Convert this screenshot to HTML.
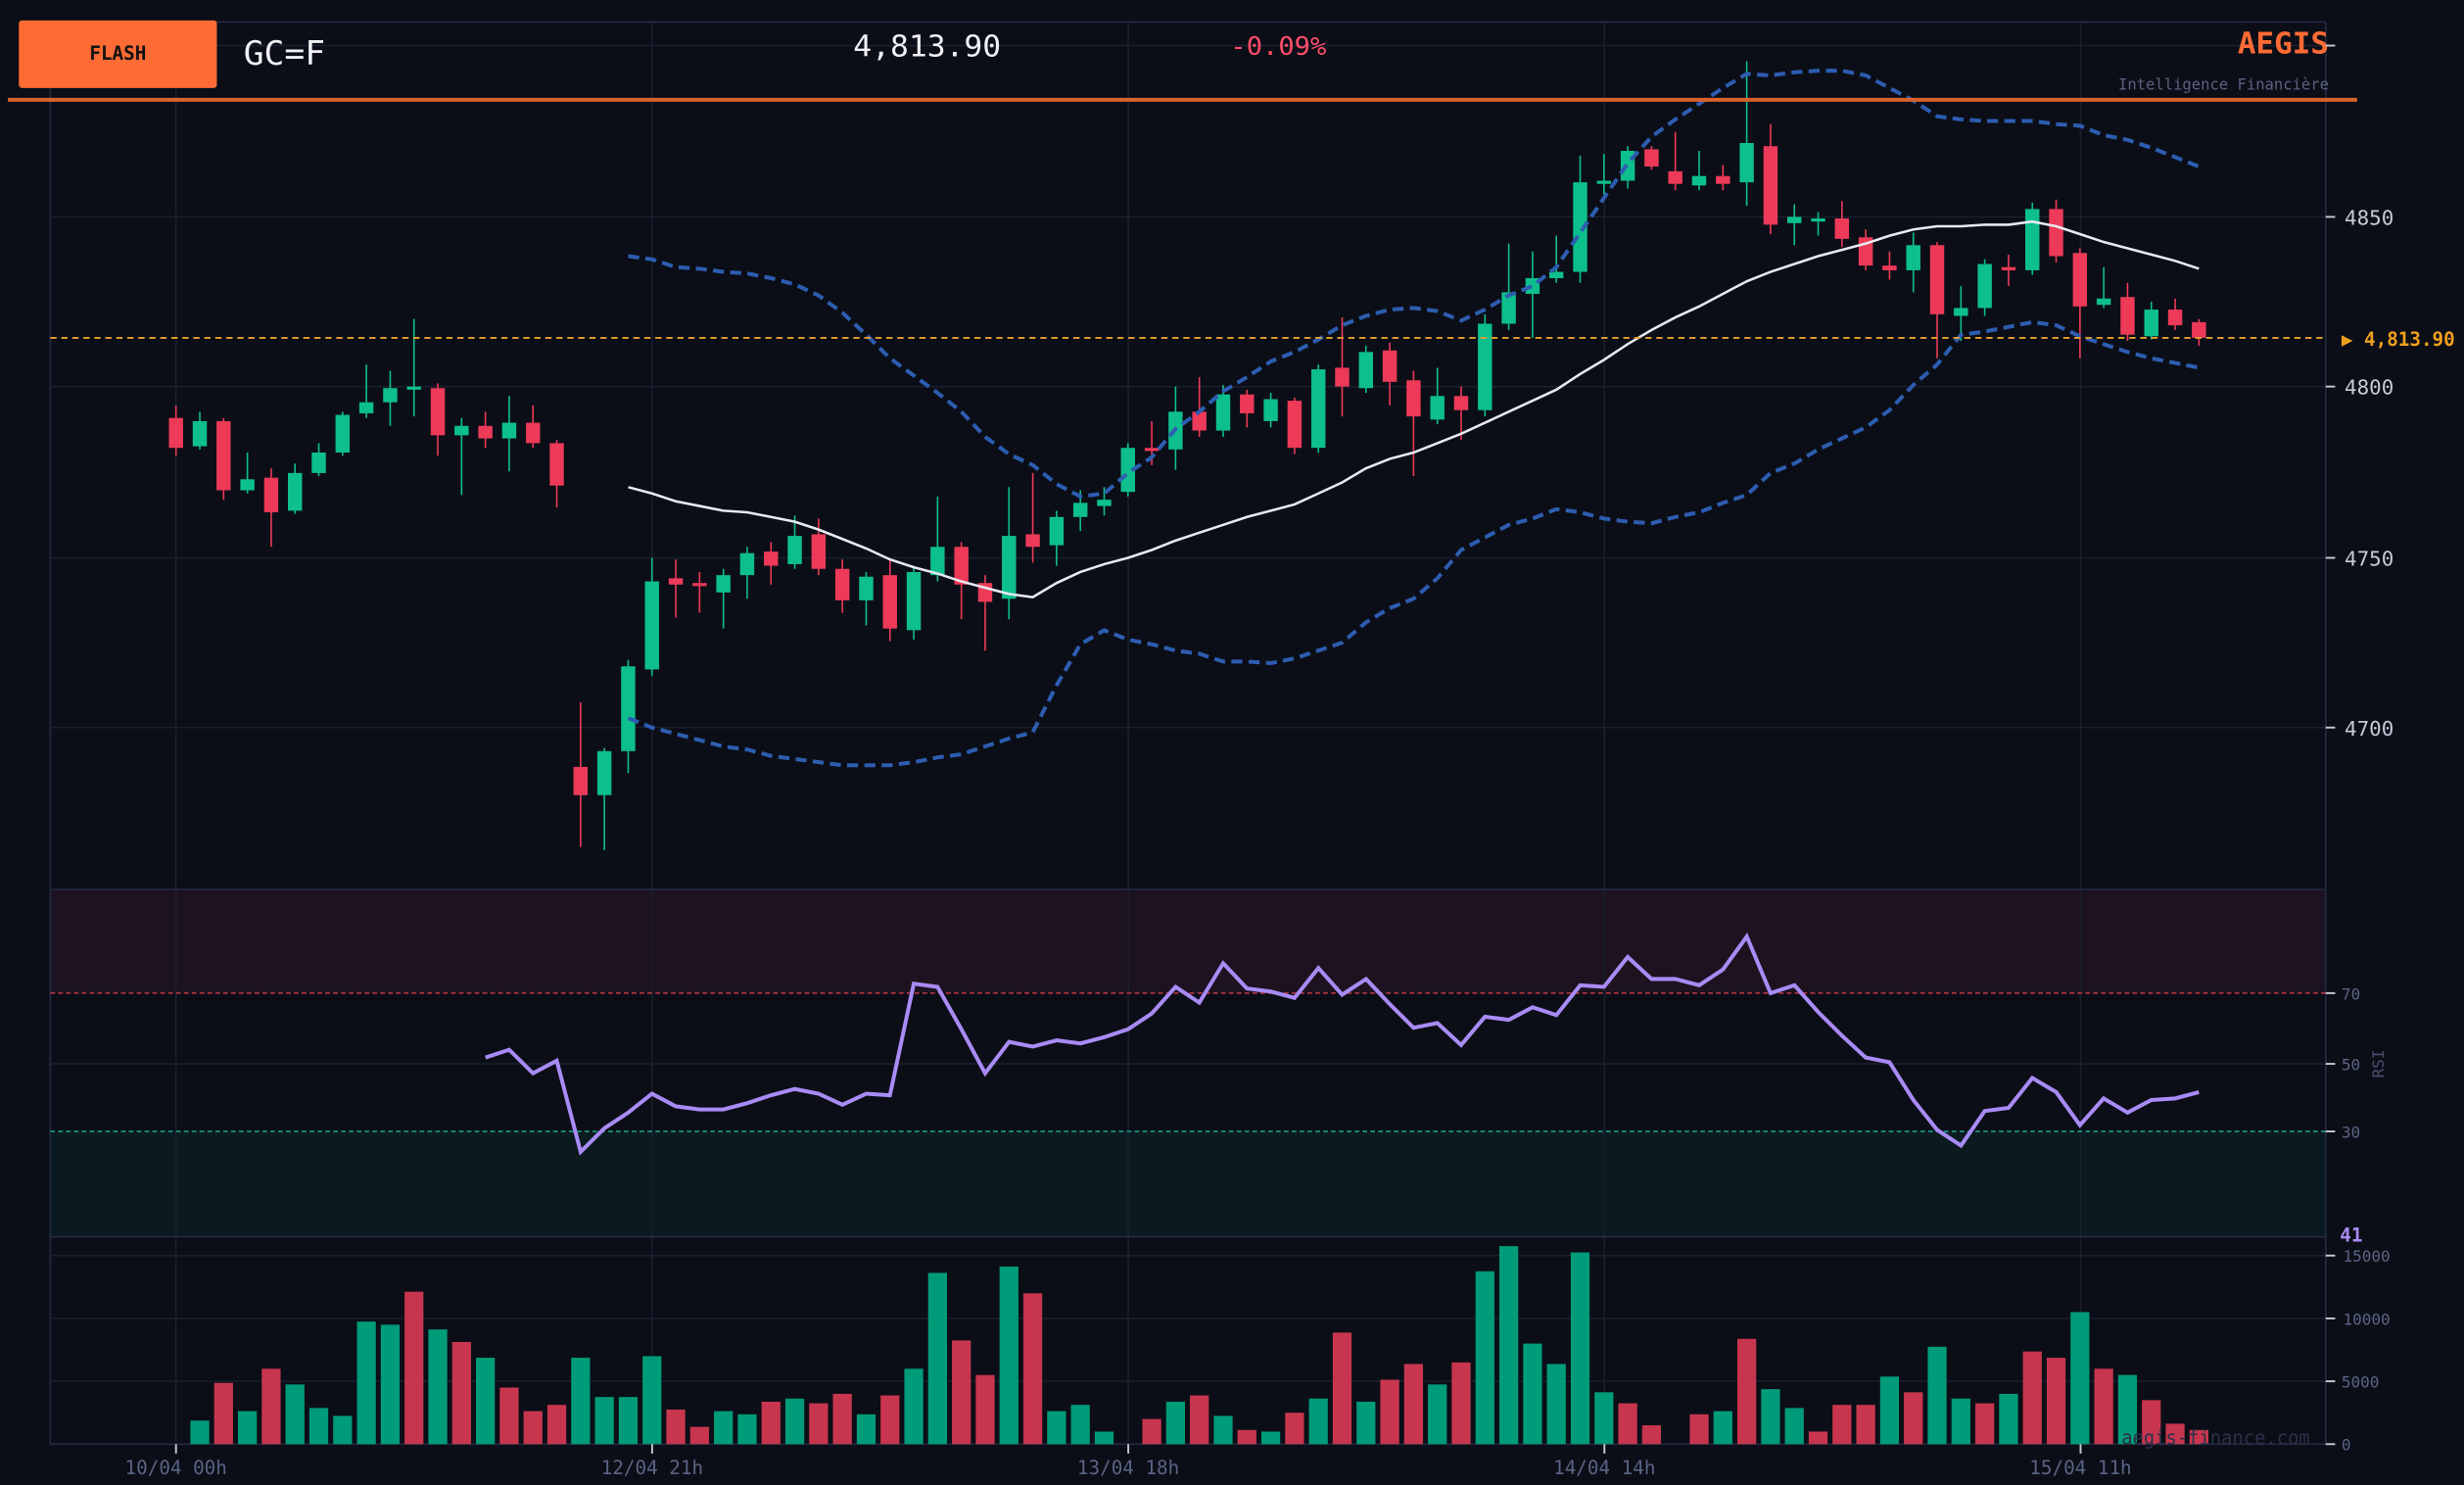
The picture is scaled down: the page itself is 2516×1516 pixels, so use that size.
<!DOCTYPE html>
<html><head><meta charset="utf-8">
<style>
html,body{margin:0;padding:0;background:#0b0e17;overflow:hidden}
svg{display:block}
text{font-family:"DejaVu Sans Mono","Liberation Mono",monospace}
</style></head>
<body>
<svg id="s" width="2516" height="1516" viewBox="0 0 1568 945" preserveAspectRatio="none" xmlns="http://www.w3.org/2000/svg">
<rect width="1568" height="945" fill="#0b0e17"/>
<rect x="32" y="566" width="1448" height="66" fill="#1d1220"/>
<rect x="32" y="720" width="1448" height="67" fill="#0b1a1f"/>
<g stroke="#1a1f2e" stroke-width="1">
<line x1="32" y1="29" x2="1480" y2="29"/><line x1="32" y1="138" x2="1480" y2="138"/><line x1="32" y1="246" x2="1480" y2="246"/><line x1="32" y1="355" x2="1480" y2="355"/><line x1="32" y1="463" x2="1480" y2="463"/>
<line x1="32" y1="677" x2="1480" y2="677"/>
<line x1="32" y1="799" x2="1480" y2="799"/><line x1="32" y1="839" x2="1480" y2="839"/><line x1="32" y1="879" x2="1480" y2="879"/>
<line x1="112" y1="14" x2="112" y2="919"/><line x1="415" y1="14" x2="415" y2="919"/><line x1="718" y1="14" x2="718" y2="919"/><line x1="1021" y1="14" x2="1021" y2="919"/><line x1="1324" y1="14" x2="1324" y2="919"/>
</g>
<g stroke="#252b40" stroke-width="1" fill="none">
<line x1="32" y1="14" x2="1480" y2="14"/>
<line x1="32" y1="14" x2="32" y2="919"/><line x1="1480" y1="14" x2="1480" y2="919"/>
<line x1="32" y1="566" x2="1480" y2="566"/><line x1="32" y1="787" x2="1480" y2="787"/><line x1="32" y1="919" x2="1480" y2="919"/>
</g>
<line x1="32" y1="632" x2="1480" y2="632" stroke="#c0394a" stroke-width="1" stroke-dasharray="3,2"/>
<line x1="32" y1="720" x2="1480" y2="720" stroke="#1a9a8a" stroke-width="1" stroke-dasharray="3,2"/>
<g id="vol"></g>
<g id="cand"></g>
<polyline id="up" fill="none" stroke="#2d5db0" stroke-width="2.5" stroke-dasharray="7,4"/>
<polyline id="lo" fill="none" stroke="#2d5db0" stroke-width="2.5" stroke-dasharray="7,4"/>
<polyline id="ma" fill="none" stroke="#e8e8f0" stroke-width="1.6"/>
<polyline id="rsi" fill="none" stroke="#a98bf5" stroke-width="2.5"/>
<line x1="32" y1="215" x2="1480" y2="215" stroke="#e8a030" stroke-width="1.2" stroke-dasharray="4,3"/>
<line x1="5" y1="63.5" x2="1500" y2="63.5" stroke="#d9622b" stroke-width="2.5"/>
<rect x="12" y="13" width="126" height="43" rx="2" fill="#ff6b35"/>
<text x="75" y="38" font-size="12" font-weight="bold" fill="#111" text-anchor="middle">FLASH</text>
<text x="155" y="41" font-size="21" fill="#f0f0f5" textLength="52" lengthAdjust="spacingAndGlyphs">GC=F</text>
<text x="543" y="36" font-size="19" fill="#f0f0f5" textLength="94" lengthAdjust="spacingAndGlyphs">4,813.90</text>
<text x="783" y="35" font-size="16" fill="#ff4d6a" textLength="61" lengthAdjust="spacingAndGlyphs">-0.09%</text>
<text x="1424" y="34" font-size="19" font-weight="bold" fill="#ff6b35" textLength="58" lengthAdjust="spacingAndGlyphs">AEGIS</text>
<text x="1348" y="57" font-size="10" fill="#5a6080" textLength="134" lengthAdjust="spacingAndGlyphs">Intelligence Financière</text>
<g stroke="#c8c8d0" stroke-width="1.2">
<line x1="1480" y1="29" x2="1486" y2="29"/><line x1="1480" y1="138" x2="1486" y2="138"/><line x1="1480" y1="246" x2="1486" y2="246"/><line x1="1480" y1="355" x2="1486" y2="355"/><line x1="1480" y1="463" x2="1486" y2="463"/>
<line x1="1480" y1="632" x2="1486" y2="632"/><line x1="1480" y1="677" x2="1486" y2="677"/><line x1="1480" y1="720" x2="1486" y2="720"/>
<line x1="1480" y1="799" x2="1486" y2="799"/><line x1="1480" y1="839" x2="1486" y2="839"/><line x1="1480" y1="879" x2="1486" y2="879"/><line x1="1480" y1="919" x2="1486" y2="919"/>
<line x1="112" y1="919" x2="112" y2="925"/><line x1="415" y1="919" x2="415" y2="925"/><line x1="718" y1="919" x2="718" y2="925"/><line x1="1021" y1="919" x2="1021" y2="925"/><line x1="1324" y1="919" x2="1324" y2="925"/>
</g>
<g font-size="13" fill="#c8cad8">
<text x="1492" y="143">4850</text><text x="1492" y="251">4800</text><text x="1492" y="360">4750</text><text x="1492" y="468">4700</text>
</g>
<text x="1490" y="220" font-size="12" font-weight="bold" fill="#f0a020">▶ 4,813.90</text>
<g font-size="10" fill="#5a6484">
<text x="1490" y="636">70</text><text x="1490" y="681">50</text><text x="1490" y="724">30</text>
<text x="1491" y="803">15000</text><text x="1491" y="843">10000</text><text x="1490" y="883">5000</text><text x="1490" y="923">0</text>
</g>
<text transform="translate(1517,677) rotate(-90)" font-size="10" fill="#4a5070" text-anchor="middle">RSI</text>
<text x="1489" y="790" font-size="12" font-weight="bold" fill="#a98bf5">41</text>
<g font-size="12" fill="#5a6484" text-anchor="middle">
<text x="112" y="938">10/04 00h</text><text x="415" y="938">12/04 21h</text><text x="718" y="938">13/04 18h</text><text x="1021" y="938">14/04 14h</text><text x="1324" y="938">15/04 11h</text>
</g>
<text x="1350" y="919" font-size="13" fill="#2a3048" textLength="120" lengthAdjust="spacingAndGlyphs">aegis-finance.com</text>
</svg>
<script>
var NS="http://www.w3.org/2000/svg";
function X(i){return 112+i*15.145;}
var C=[[266,285,258,290],[284,268,262,286],[268,312,266,318],[312,305,288,314],[304,326,298,348],[325,301,295,327],[301,288,282,303],[288,264,262,290],[263,256,232,266],[256,247,236,271],[248,246,203,265],[247,277,244,290],[277,271,266,315],[271,279,262,285],[279,269,252,300],[269,282,258,285],[282,309,280,323],[488,506,447,539],[506,478,476,541],[478,424,420,492],[426,370,355,430],[368,372,356,393],[371,373,364,390],[377,366,362,400],[366,352,348,381],[351,360,345,372],[359,341,328,362],[340,362,330,366],[362,382,356,390],[382,367,364,398],[366,400,356,408],[401,364,360,407],[366,348,316,370],[348,372,345,394],[371,383,366,414],[381,341,310,394],[340,348,301,358],[347,329,325,360],[329,320,312,338],[322,318,310,328],[313,285,282,316],[285,287,268,296],[286,262,246,299],[262,274,240,278],[274,251,245,278],[251,263,248,272],[268,254,250,272],[255,285,253,289],[285,235,232,288],[234,246,202,265],[247,224,220,250],[223,243,218,258],[242,265,236,303],[267,252,234,270],[252,261,246,280],[261,206,200,265],[206,186,155,210],[187,177,160,215],[177,173,150,180],[173,116,99,180],[117,115,98,124],[115,96,93,120],[95,106,93,108],[109,117,84,121],[118,112,96,121],[112,117,105,121],[116,91,39,131],[93,143,79,149],[142,138,130,156],[141,139,135,150],[139,152,128,157],[151,169,146,172],[169,172,160,178],[172,156,148,186],[156,200,154,228],[201,196,182,217],[196,168,165,201],[170,172,162,182],[172,133,129,175],[133,163,127,167],[161,195,158,228],[194,190,170,196],[189,213,180,217],[214,197,192,216],[197,207,190,210],[205,215,203,220]];
var V=[0,904,880,898,871,881,896,901,841,843,822,846,854,864,883,898,894,864,889,889,863,897,908,898,900,892,890,893,887,900,888,871,810,853,875,806,823,898,894,911,919,903,892,888,901,910,911,899,890,848,892,878,868,881,867,809,793,855,868,797,886,893,907,919,900,898,852,884,896,911,894,894,876,886,857,890,893,887,860,864,835,871,875,891,906,910];
var VC="xgrgrgggggrgrgrrrggggrrggrgrrgrggrrgrggggrgrgrgrgrgrrgrggggggrrgrgrggrrrgrggrgrrgrgrr";
var cg=document.getElementById("cand"),vg=document.getElementById("vol");
for(var i=0;i<C.length;i++){var c=C[i],x=X(i),g=c[1]<c[0];var col=g?"#0dbf8c":"#ec3a58";
var l=document.createElementNS(NS,"line");l.setAttribute("x1",x);l.setAttribute("x2",x);l.setAttribute("y1",c[2]);l.setAttribute("y2",c[3]);l.setAttribute("stroke",col);l.setAttribute("stroke-width","1");cg.appendChild(l);
var r=document.createElementNS(NS,"rect");var t=Math.min(c[0],c[1]),h=Math.max(2,Math.abs(c[0]-c[1]));r.setAttribute("x",x-4.5);r.setAttribute("y",t);r.setAttribute("width",9);r.setAttribute("height",h);r.setAttribute("fill",col);cg.appendChild(r);}
for(var i=1;i<V.length;i++){if(V[i]>=919)continue;var x=X(i);var col=VC[i]=="g"?"#009b78":"#c7364e";var r=document.createElementNS(NS,"rect");r.setAttribute("x",x-6);r.setAttribute("y",V[i]);r.setAttribute("width",12);r.setAttribute("height",919-V[i]);r.setAttribute("fill",col);vg.appendChild(r);}
function pl(id,start,arr){var p=[];for(var k=0;k<arr.length;k++)p.push(X(start+k).toFixed(1)+","+arr[k]);document.getElementById(id).setAttribute("points",p.join(" "));}
pl("rsi",13,[673,668,683,675,733,718,708,696,704,706,706,702,697,693,696,703,696,697,626,628,655,683,663,666,662,664,660,655,645,628,638,613,629,631,635,616,633,623,639,654,651,665,647,649,641,646,627,628,609,623,623,627,617,596,632,627,644,659,673,676,700,719,729,707,705,686,695,716,699,708,700,699,695]);
pl("ma",19,[310,314,319,322,325,326,329,332,337,343,349,356,361,365,370,374,378,380,371,364,359,355,350,344,339,334,329,325,321,314,307,298,292,288,282,276,269,262,255,248,238,229,219,210,202,195,187,179,173,168,163,159,155,150,146,144,144,143,143,141,144,149,154,158,162,166,171]);
pl("up",19,[163,165,170,171,173,174,177,181,188,199,213,228,239,250,262,278,289,296,308,316,314,301,291,273,262,249,240,230,224,216,207,201,197,196,198,204,197,188,182,170,148,126,104,87,76,66,56,47,48,46,45,45,48,56,64,74,76,77,77,77,79,80,86,89,94,100,106]);
pl("lo",19,[457,463,467,471,475,477,481,483,485,487,487,487,485,482,480,475,470,466,436,410,401,407,410,414,416,421,421,422,419,414,409,396,387,381,368,350,342,334,330,324,326,330,332,333,329,326,320,315,301,295,286,279,272,261,245,232,213,211,208,205,207,214,219,224,228,231,234]);
</script>
</body></html>
